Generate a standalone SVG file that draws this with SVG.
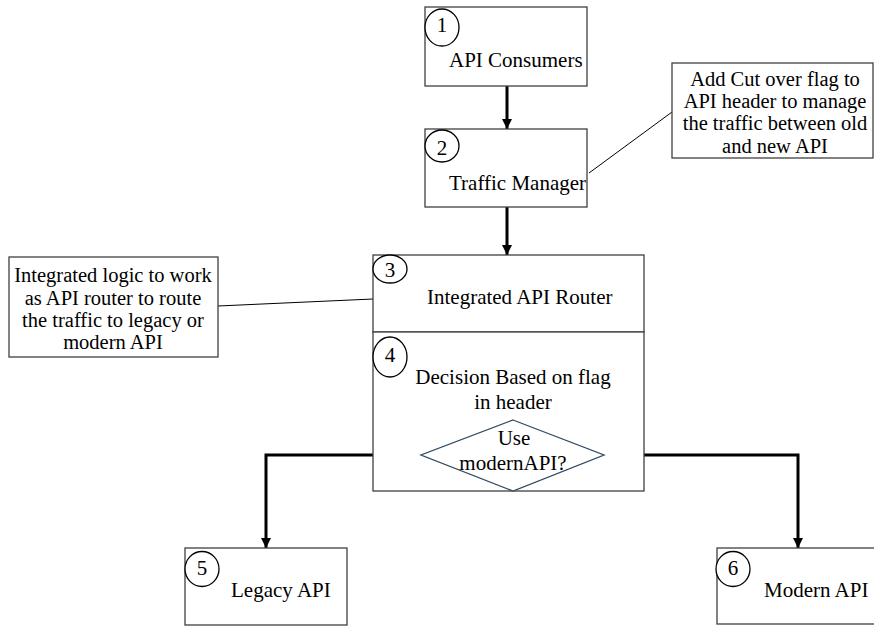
<svg xmlns="http://www.w3.org/2000/svg" width="874" height="626" viewBox="0 0 874 626">
  <defs>
    <marker id="head" markerUnits="userSpaceOnUse" markerWidth="10" markerHeight="10" refX="10" refY="5" orient="auto" viewBox="0 0 10 10">
      <path d="M0,0 L10,5 L0,10 Z" fill="#000"/>
    </marker>
  </defs>
  <style>
    .box { fill: #fff; stroke: #404040; stroke-width: 1.3; }
    .badge { fill: #fff; stroke: #000; stroke-width: 1.3; }
    text { font-family: 'Liberation Serif', 'Times New Roman', Times, serif; font-size: 21px; fill: #000; }
    .mid { text-anchor: middle; }
    .note { font-size: 20.5px; }
    .flow { fill: none; stroke: #000; stroke-width: 3; marker-end: url(#head); }
    .lead { fill: none; stroke: #000; stroke-width: 1; }
    .decision { fill: #fff; stroke: #2e4a62; stroke-width: 1.3; }
  </style>
  <rect width="874" height="626" fill="#fff"/>

  <!-- flow arrows and callout leader lines -->
  <g id="connectors">
    <line class="flow" x1="507" y1="86" x2="507" y2="129"/>
    <line class="flow" x1="507" y1="207" x2="507" y2="255"/>
    <polyline class="flow" points="421,455 266,455 266,548"/>
    <polyline class="flow" points="604,455 798,455 798,548"/>
    <line class="lead" x1="672" y1="112" x2="589" y2="173"/>
    <line class="lead" x1="218" y1="306" x2="373" y2="299"/>
  </g>

  <g id="n1">
    <rect class="box" x="425" y="7" width="162" height="79"/>
    <ellipse class="badge" cx="442" cy="27.5" rx="17" ry="18.5"/>
    <text class="mid" x="442" y="32">1</text>
    <text x="449" y="67">API Consumers</text>
  </g>

  <g id="n2">
    <rect class="box" x="425" y="129" width="162" height="78"/>
    <ellipse class="badge" cx="442" cy="146" rx="17" ry="16"/>
    <text class="mid" x="442" y="155">2</text>
    <text x="449" y="190">Traffic Manager</text>
  </g>

  <g id="note-cutover">
    <rect class="box" x="672" y="63" width="201" height="95"/>
    <text class="mid note" x="775" y="86">Add Cut over flag to</text>
    <text class="mid note" x="775" y="108">API header to manage</text>
    <text class="mid note" x="775" y="130">the traffic between old</text>
    <text class="mid note" x="775" y="153">and new API</text>
  </g>

  <g id="n3">
    <rect class="box" x="373" y="255" width="271" height="77"/>
    <ellipse class="badge" cx="390" cy="269" rx="17" ry="14"/>
    <text class="mid" x="390" y="277">3</text>
    <text x="427" y="304">Integrated API Router</text>
  </g>

  <g id="note-router">
    <rect class="box" x="9" y="257" width="209" height="100"/>
    <text class="mid note" x="113" y="282">Integrated logic to work</text>
    <text class="mid note" x="113" y="305">as API router to route</text>
    <text class="mid note" x="113" y="327">the traffic to legacy or</text>
    <text class="mid note" x="113" y="349">modern API</text>
  </g>

  <g id="n4">
    <rect class="box" x="373" y="332" width="271" height="159"/>
    <ellipse class="badge" cx="390" cy="357" rx="17" ry="20"/>
    <text class="mid" x="390" y="362">4</text>
    <text class="mid" x="513" y="384">Decision Based on flag</text>
    <text class="mid" x="513" y="409">in header</text>
  </g>

  <g id="decision">
    <polygon class="decision" points="513,420 604,455 513,491 421,455"/>
    <text class="mid" x="514" y="445">Use</text>
    <text class="mid" x="513" y="470">modernAPI?</text>
  </g>

  <g id="n5">
    <rect class="box" x="185" y="548" width="162" height="77"/>
    <ellipse class="badge" cx="202" cy="569" rx="17" ry="17.5"/>
    <text class="mid" x="202" y="575">5</text>
    <text x="231" y="597">Legacy API</text>
  </g>

  <g id="n6">
    <rect class="box" x="717" y="548" width="170" height="76"/>
    <ellipse class="badge" cx="733" cy="569" rx="17" ry="17.5"/>
    <text class="mid" x="733" y="575">6</text>
    <text x="764" y="597">Modern API</text>
  </g>
</svg>
